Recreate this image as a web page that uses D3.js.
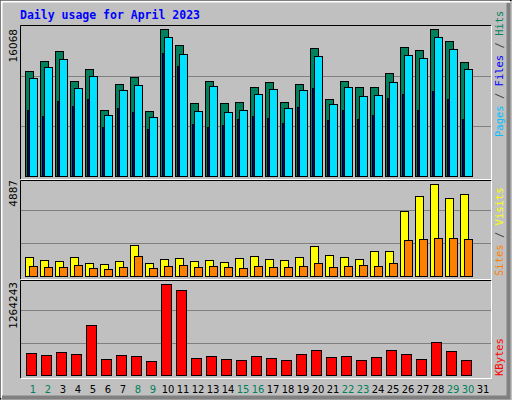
<!DOCTYPE html>
<html><head><meta charset="utf-8">
<script src="https://cdn.jsdelivr.net/npm/d3@7"></script>
<style>body{margin:0;background:#fff}svg{display:block}</style></head>
<body><svg id="c" width="512" height="400"></svg>
<script>
const days = d3.range(1,32);
const weekend = [1,2,8,9,15,16,22,23,29,30];
const hits  = [11480,12570,13660,10390,11700,7220,10060,10820,7110,16068,14320,7980,10390,7980,8090,9730,10280,8090,10060,13990,8420,10390,9730,9730,11260,14100,13770,16068,14760,12460,0];
const files = [10710,11920,12790,9620,10930,6670,9400,9950,6450,15190,13340,7110,9840,7000,7220,8960,9510,7430,9400,13120,7870,9730,8750,8850,10280,13230,12900,15190,13880,11700,0];
const pages = [7220,6560,8200,7650,8420,5360,7430,7000,5140,13440,12020,5680,5360,5570,6230,6560,6340,5790,7540,9620,6120,7220,6230,6670,8530,8960,7220,9290,8420,6230,0];
const visits= [1010,850,800,1010,690,640,800,1650,690,900,960,800,850,740,960,1060,900,850,1010,1590,1120,1010,900,1330,1330,3450,4250,4887,4140,4350,0];
const sites = [530,480,480,580,420,370,480,1060,420,530,580,480,530,480,420,530,480,480,530,690,480,530,580,530,690,1910,1970,2020,2020,1970,0];
const kbytes= [305000,278000,319000,292000,695000,222000,278000,264000,194000,1264243,1181000,236000,264000,222000,208000,264000,236000,208000,292000,347000,250000,264000,208000,250000,347000,292000,222000,458000,333000,208000,0];
const yMaxLabels = ["16068","4887","1264243"];

const svg = d3.select("#c");
const mono = "'DejaVu Sans Mono', monospace";
svg.append("rect").attr("width",512).attr("height",400).attr("fill","#c0c0c0");
// bevel
svg.append("path").attr("d","M0.5,399.5V0.5H511.5").attr("stroke","#000").attr("fill","none");
svg.append("path").attr("d","M1.5,398V1.5H510").attr("stroke","#fff").attr("fill","none").attr("stroke-width",2);
svg.append("path").attr("d","M2,397.5H508.5V3").attr("stroke","#808080").attr("fill","none").attr("stroke-width",4);

svg.append("text").attr("x",20).attr("y",19).attr("fill","#0000ff").attr("font-family",mono)
 .attr("font-weight","bold").attr("font-size",11.5).text("Daily usage for April 2023");

const x = d3.scaleBand().domain(days).range([24,489]).paddingInner(0);
const panels = [{t:25,b:179},{t:180,b:279},{t:280,b:378}];
panels.forEach(p=>{
  svg.append("path").attr("d",`M20.5,${p.b}V${p.t+0.5}H491`).attr("stroke","#000").attr("fill","none");
  svg.append("path").attr("d",`M21,${p.b+0.5}H491.5V${p.t+1}`).attr("stroke","#fff").attr("fill","none");
});
function grid(base, step){
  [1,2].forEach(k=>svg.append("line").attr("x1",21).attr("x2",491).attr("y1",base-step*k+0.5).attr("y2",base-step*k+0.5).attr("stroke","#808080"));
}
function bars(data, y, off, w, color){
  svg.append("g").selectAll("rect").data(data).join("rect")
   .filter(d=>d>0)
   .attr("x",(d,i)=>x(days[i])+off+0.5).attr("width",w)
   .attr("y",d=>Math.round(y(d))+0.5).attr("height",d=>y(0)-Math.round(y(d)))
   .attr("fill",color).attr("stroke","#000");
}
// top
const y1 = d3.scaleLinear().domain([0,16068]).range([176,29]);
grid(176,50);
bars(hits,y1,1,8,"#00805c");
bars(files,y1,5,8,"#00e0ff");
bars(pages,y1,3,1.5,"#0000ff");
// middle
const y2 = d3.scaleLinear().domain([0,4887]).range([276,184]);
grid(276,33);
bars(visits,y2,1,8,"#ffff00");
bars(sites,y2,5,8,"#ff8000");
// bottom
const y3 = d3.scaleLinear().domain([0,1264243]).range([375,284]);
grid(376,33);
bars(kbytes,y3,2,10,"#ff0000");

// left labels
[[29,0],[180,1],[282,2]].forEach(([yy,i])=>{
  svg.append("text").attr("transform",`translate(17,${yy}) rotate(-90)`).attr("text-anchor","end")
   .attr("font-family","'DejaVu Sans', sans-serif").attr("font-size",10.5).attr("fill","#000").text(yMaxLabels[i]);
});
// right legends
function legend(yBottom, parts){
  const t = svg.append("text").attr("transform",`translate(503,${yBottom}) rotate(-90)`)
   .attr("font-family",mono).attr("font-size",10.5);
  parts.forEach(([s,c])=>t.append("tspan").attr("fill",c).text(s));
}
legend(137,[["Pages","#00c0ff"],[" / ","#404040"],["Files","#0000ff"],[" / ","#404040"],["Hits","#00805c"]]);
legend(276,[["Sites","#ff8000"],[" / ","#404040"],["Visits","#ffff00"]]);
legend(376,[["KBytes","#ff0000"]]);
// day labels
svg.append("g").selectAll("text").data(days).join("text")
 .attr("x",d=>x(d)+x.bandwidth()/2+1.5).attr("y",393).attr("text-anchor","middle")
 .attr("font-family","'DejaVu Sans', sans-serif").attr("font-size",10)
 .attr("fill",d=>weekend.includes(d)?"#00805c":"#000").text(d=>d);
</script></body></html>
